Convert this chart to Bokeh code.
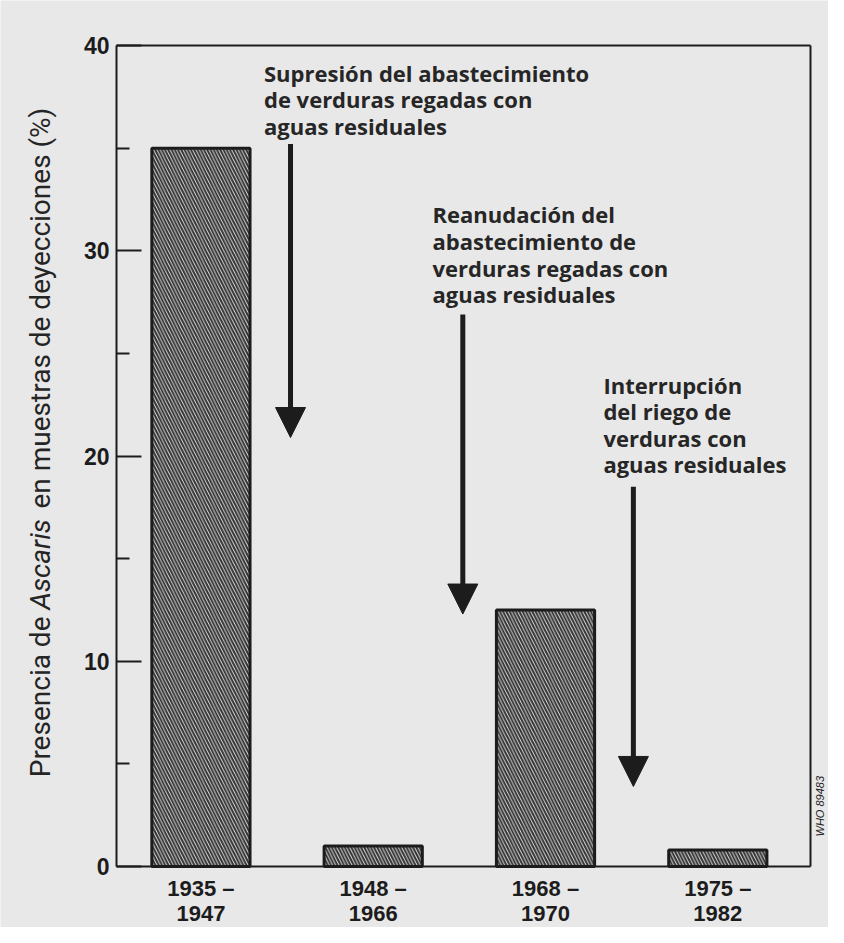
import math
from bokeh.plotting import figure
from bokeh.models import (Range1d, FixedTicker, Arrow, NormalHead, Label, LinearAxis,
                          ColumnDataSource)
from bokeh.core.properties import value
from bokeh.embed import file_html
from bokeh.resources import INLINE

# ---- data ----
periods = ["1935 –\n1947", "1948 –\n1966", "1968 –\n1970", "1975 –\n1982"]
prevalence = [35.0, 1.0, 12.5, 0.8]

y_ticks = [0, 10, 20, 30, 40]
y_minor = [5, 15, 25, 35]

notes = [
    "Supresión del abastecimiento\nde verduras regadas  con\naguas residuales",
    "Reanudación del\nabastecimiento de\nverduras regadas con\naguas residuales",
    "Interrupción\ndel riego de\nverduras con\naguas residuales",
]
note_x = [0.366, 1.344, 2.336]
note_y = [39.4, 32.5, 24.2]

arrow_x = [0.52, 1.52, 2.51]
arrow_y0 = [35.2, 26.9, 18.5]
arrow_y1 = [20.9, 12.3, 3.9]

# ---- layout (pixel geometry of the reference frame) ----
W, H = 828, 927
LEFT, RIGHT, TOP, BOTTOM = 116, 810, 45, 866
X0, X1 = -0.49, 3.538          # data x at the left / right frame lines
Y0, Y1 = 0, 40
ppu_x = (RIGHT - LEFT) / (X1 - X0)
ppu_y = (BOTTOM - TOP) / (Y1 - Y0)
xr = Range1d(X0 - LEFT / ppu_x, X0 + (W - LEFT) / ppu_x)
yr = Range1d(-(H - BOTTOM) / ppu_y, BOTTOM / ppu_y)

def sx_to_x(sx):
    return X0 + (sx - LEFT) / ppu_x

def sy_to_y(sy):
    return (BOTTOM - sy) / ppu_y

BG = "#e8e8e8"
INK = "#1c1c1c"

p = figure(width=W, height=H, output_backend="svg", toolbar_location=None,
           x_range=xr, y_range=yr,
           min_border=0, min_border_left=0, min_border_right=0,
           min_border_top=0, min_border_bottom=0)
p.background_fill_color = BG
p.border_fill_color = BG
p.outline_line_color = None
p.grid.visible = False

xs = list(range(len(periods)))
src = ColumnDataSource(dict(x=xs, top=prevalence))
p.vbar(x="x", top="top", bottom=0, width=0.57, source=src,
       fill_color="#e0e0e0", line_color=INK, line_width=3,
       hatch_pattern="\\", hatch_color="#333333", hatch_scale=6.5, hatch_weight=2)

# y axis (left)
ya = p.yaxis[0]
ya.fixed_location = X0
ya.bounds = (Y0, Y1)
ya.ticker = FixedTicker(ticks=y_ticks, minor_ticks=y_minor)
ya.major_tick_in = 25
ya.major_tick_out = 0
ya.minor_tick_in = 13
ya.minor_tick_out = 0
ya.major_tick_line_width = 2
ya.minor_tick_line_width = 2
ya.axis_line_width = 2
ya.axis_line_color = INK
ya.major_tick_line_color = INK
ya.minor_tick_line_color = INK
ya.major_label_text_font = "Liberation Sans"
ya.major_label_text_font_style = "bold"
ya.major_label_text_font_size = "23px"
ya.major_label_text_color = INK
ya.major_label_standoff = 7

# x axis (bottom)
xa = p.xaxis[0]
xa.fixed_location = 0
xa.bounds = (X0, X1)
xa.ticker = FixedTicker(ticks=xs)
xa.major_label_overrides = {i: s for i, s in enumerate(periods)}
xa.major_tick_in = 0
xa.major_tick_out = 0
xa.minor_tick_line_color = None
xa.axis_line_width = 2
xa.axis_line_color = INK
xa.major_label_text_font = "Liberation Sans"
xa.major_label_text_font_style = "bold"
xa.major_label_text_font_size = "22px"
xa.major_label_text_color = INK
xa.major_label_text_line_height = 1.0
xa.major_label_standoff = 9

# frame box: top and right lines as bare axes
top_ax = LinearAxis(fixed_location=Y1, bounds=(X0, X1), ticker=FixedTicker(ticks=[]),
                    axis_line_width=2, axis_line_color=INK,
                    major_tick_line_color=None, minor_tick_line_color=None,
                    major_label_text_font_size="0px")
right_ax = LinearAxis(fixed_location=X1, bounds=(Y0, Y1), ticker=FixedTicker(ticks=[]),
                      axis_line_width=2, axis_line_color=INK,
                      major_tick_line_color=None, minor_tick_line_color=None,
                      major_label_text_font_size="0px")
p.add_layout(top_ax, "above")
p.add_layout(right_ax, "right")

# arrows
for ax, a0, a1 in zip(arrow_x, arrow_y0, arrow_y1):
    p.add_layout(Arrow(x_start=ax, y_start=a0, x_end=ax, y_end=a1,
                       line_width=5, line_color=INK,
                       end=NormalHead(size=30, fill_color=INK, line_color=INK)))

# annotations
p.text(x=note_x, y=note_y, text=notes, text_font=value("Open Sans"),
       text_font_style="bold", text_font_size="22px", text_color="#262626",
       text_baseline="top", text_align="left", text_line_height=0.885)

# y-axis title (with italic "Ascaris")
lab_font = "Roboto"
lab_size = "28px"
lx = sx_to_x(40)
p.add_layout(Label(x=lx, y=sy_to_y(616), text="Presencia de", angle=math.pi / 2,
                   text_align="right", text_baseline="middle", text_font=lab_font,
                   text_font_size=lab_size, text_color="#252525"))
p.add_layout(Label(x=lx, y=sy_to_y(564), text="Ascaris", angle=math.pi / 2,
                   text_align="center", text_baseline="middle", text_font=lab_font,
                   text_font_style="italic", text_font_size=lab_size, text_color="#252525"))
p.add_layout(Label(x=lx, y=sy_to_y(508), text="en muestras de deyecciones (%)", angle=math.pi / 2,
                   text_align="left", text_baseline="middle", text_font=lab_font,
                   text_font_size=lab_size, text_color="#252525"))

# WHO mark
p.add_layout(Label(x=sx_to_x(819), y=sy_to_y(836), text="WHO  89483", angle=math.pi / 2,
                   text_align="left", text_baseline="middle", text_font="Liberation Sans",
                   text_font_style="italic", text_font_size="11px", text_color="#222222"))

open("out.html", "w").write(file_html(p, INLINE))
